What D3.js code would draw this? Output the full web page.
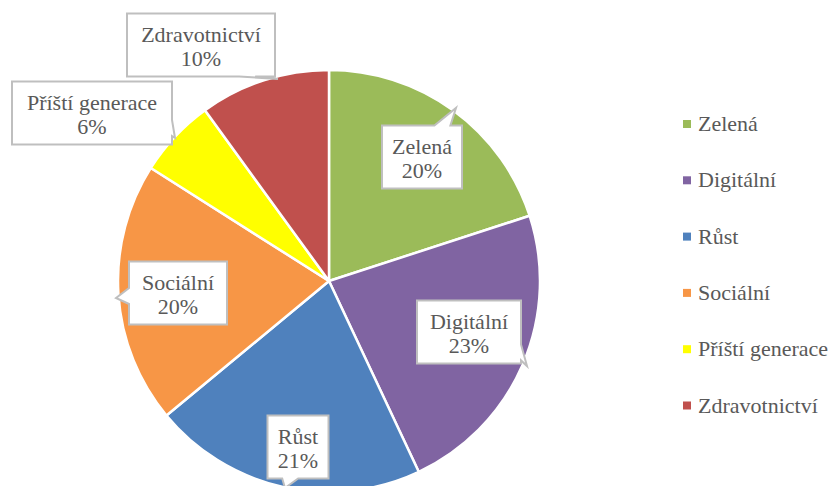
<!DOCTYPE html>
<html>
<head>
<meta charset="utf-8">
<script src="https://cdn.jsdelivr.net/npm/d3@7"></script>
</head>
<body style="margin:0">
<script>
// data
var categories = ["Zelená", "Digitální", "Růst", "Sociální", "Příští generace", "Zdravotnictví"];
var values = [20, 23, 21, 20, 6, 10];
var colors = ["#9BBB59", "#8064A2", "#4F81BD", "#F79646", "#FFFF00", "#C0504D"];

// label layout: box centre, box width and where the callout tail points
var label_boxes = [
    {"cx": 422, "cy": 157, "w": 80,  "tx": 456, "ty": 108},
    {"cx": 469, "cy": 332, "w": 104, "tx": 527, "ty": 366},
    {"cx": 298, "cy": 447, "w": 61,  "tx": 285, "ty": 488},
    {"cx": 178, "cy": 293, "w": 98,  "tx": 116, "ty": 298},
    {"cx": 92,  "cy": 113, "w": 160, "tx": 175, "ty": 138},
    {"cx": 201, "cy": 45,  "w": 148, "tx": 278, "ty": 79}
];

var serif_names = ["Tinos", "Times New Roman", "FreeSerif", "Liberation Serif"];
var label_font = serif_names.map(function(d) { return "'" + d + "'"; }).join(", ") + ", serif";
var text_color = "#595959";

serif_names.forEach(function(d) { document.fonts.check("22px '" + d + "'"); });

function callout_path(x0, y0, x1, y1, tx, ty) {
    var cx = (x0 + x1) / 2, cy = (y0 + y1) / 2;
    var w = x1 - x0, h = y1 - y0;
    var rx = (tx - cx) / (w / 2), ry = (ty - cy) / (h / 2);
    var hw = 8;
    var p = [];
    if (Math.abs(ry) >= Math.abs(rx)) {
        var bx = Math.max(x0 + hw + 2, Math.min(x1 - hw - 2, cx + 0.6 * (tx - cx)));
        if (ry < 0) {
            p = [[x0, y0], [bx - hw, y0], [tx, ty], [bx + hw, y0], [x1, y0], [x1, y1], [x0, y1]];
        } else {
            p = [[x0, y0], [x1, y0], [x1, y1], [bx + hw, y1], [tx, ty], [bx - hw, y1], [x0, y1]];
        }
    } else {
        var by = Math.max(y0 + hw + 2, Math.min(y1 - hw - 2, cy + 0.6 * (ty - cy)));
        if (rx > 0) {
            p = [[x0, y0], [x1, y0], [x1, by - hw], [tx, ty], [x1, by + hw], [x1, y1], [x0, y1]];
        } else {
            p = [[x0, y0], [x1, y0], [x1, y1], [x0, y1], [x0, by + hw], [tx, ty], [x0, by - hw]];
        }
    }
    return "M" + p.map(function(d) { return d.join(","); }).join("L") + "Z";
}

function draw_pie() {
    var width = 840;
    var height = 486;
    var svg = d3.select("body")
        .append("svg")
        .attr("width", width)
        .attr("height", height);

    var data = categories.map(function(c, i) {
        return {"name": c, "value": values[i], "color": colors[i], "box": label_boxes[i]};
    });

    var radius = 211;
    var g = svg.append("g")
        .attr("transform", "translate(329, 281)");

    var pie = d3.pie()
        .sort(null)
        .value(function(d) { return d.value; });
    var arc = d3.arc()
        .innerRadius(0)
        .outerRadius(radius);

    g.selectAll("path")
        .data(pie(data))
        .enter()
        .append("path")
        .attr("d", arc)
        .attr("fill", function(d) { return d.data.color; })
        .attr("stroke", "#fff")
        .attr("stroke-width", 2.5)
        .attr("stroke-linejoin", "round");

    // callout labels
    var labels = svg.selectAll("g.label")
        .data(data)
        .enter()
        .append("g")
        .attr("class", "label");

    labels.append("path")
        .attr("fill", "#fff")
        .attr("stroke", "#BFBFBF")
        .attr("stroke-width", 2)
        .attr("d", function(d) {
            var h = 63;
            var x0 = d.box.cx - d.box.w / 2, y0 = d.box.cy - h / 2;
            return callout_path(x0, y0, x0 + d.box.w, y0 + h, d.box.tx, d.box.ty);
        });

    var txt = labels.append("text")
        .attr("text-anchor", "middle")
        .attr("fill", text_color)
        .style("font-family", label_font)
        .style("font-size", "22px");
    txt.append("tspan")
        .attr("x", function(d) { return d.box.cx; })
        .attr("y", function(d) { return d.box.cy - 3; })
        .text(function(d) { return d.name; });
    txt.append("tspan")
        .attr("x", function(d) { return d.box.cx; })
        .attr("y", function(d) { return d.box.cy + 21; })
        .text(function(d) { return d.value + "%"; });

    // legend
    var legend = svg.selectAll("g.legend")
        .data(data)
        .enter()
        .append("g")
        .attr("class", "legend")
        .attr("transform", function(d, i) { return "translate(683," + (124 + i * 56.3) + ")"; });
    legend.append("rect")
        .attr("x", 0)
        .attr("y", -4)
        .attr("width", 8)
        .attr("height", 8)
        .attr("fill", function(d) { return d.color; });
    legend.append("text")
        .attr("x", 15)
        .attr("y", 7)
        .attr("fill", text_color)
        .style("font-family", label_font)
        .style("font-size", "22px")
        .text(function(d) { return d.name; });
}

// run
draw_pie();
</script>
</body>
</html>
